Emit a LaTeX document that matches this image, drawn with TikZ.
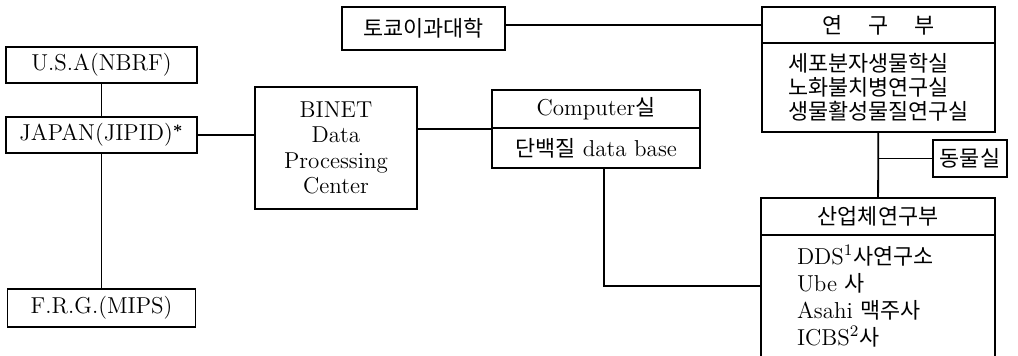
\documentclass[tikz,border=0pt]{standalone}
\usepackage{amsmath}
\usepackage{fontspec}
\newfontfamily\krfont[Scale=0.95]{Noto Sans CJK KR}
\newcommand{\krtext}[1]{{\krfont #1}}
\usetikzlibrary{positioning}

\begin{document}
\begin{tikzpicture}[x=0.5pt,y=-0.5pt,on grid,node distance=35pt,
  box/.style={draw,line width=0.9pt,inner sep=0pt,font=\fontsize{11.5}{12.75}\selectfont},
  link/.style={line width=0.9pt}]
\useasboundingbox (0,0) rectangle (1018,355);
\clip (0,0) rectangle (1018,355);
\node[box,minimum width=95.5pt,minimum height=18pt] (usa) at (101.5,65) {U.S.A(NBRF)};
\node[box,minimum width=95.5pt,minimum height=18pt] (japan) [below=of usa] {JAPAN(JIPID)$^{\boldsymbol{*}}$};
\node[box,minimum width=94pt,minimum height=19pt] (frg) [below=86.5pt of japan] {F.R.G.(MIPS)};
\node[box,align=center,minimum width=81pt,minimum height=61pt] (binet) at (336,148) {BINET\\Data\\Processing\\Center};
\node[box,minimum width=104pt,minimum height=19pt] (comphead) at (596,109) {Computer\krtext{실}};
\node[box,minimum width=104pt,minimum height=20pt] (compbody) [below=19.5pt of comphead] {\krtext{단백질} data base};
\node[box,minimum width=81.5pt,minimum height=21.5pt] (tokyo) at (423.5,28.5) {\krtext{토쿄이과대학}};
\node[box,minimum width=116.5pt,minimum height=18pt] (reshead) at (878.5,25) {\krtext{연\hspace{13pt}구\hspace{13pt}부}};
\node[box,align=left,minimum width=116.5pt,minimum height=44.5pt,font=\fontsize{11.5}{12}\selectfont\krfont] (resbody) [below=31.25pt of reshead] {세포분자생물학실\\노화불치병연구실\\생물활성물질연구실};
\node[box,minimum width=37pt,minimum height=18.5pt] (animal) at (970,158.5) {\krtext{동물실}};
\node[box,minimum width=117pt,minimum height=18.5pt] (indhead) at (878,216.5) {\krtext{산업체연구부}};
\node[box,inner xsep=18pt,inner ysep=5pt] (indbody) [below=49.25pt of indhead] {\parbox[c][70pt][t]{81pt}{\raggedright\baselineskip=13.5pt DDS\textsuperscript{1}\krtext{사연구소}\\Ube \krtext{사}\\Asahi \krtext{맥주사}\\ICBS\textsuperscript{2}\krtext{사}}};
\draw[link] (usa) -- (japan) (japan) -- (frg);
\draw[link] (japan.east) -- (japan.east -| binet.west);
\draw[link] (binet.east |- comphead.south) -- (comphead.south west);
\draw[link] ([xshift=4pt]compbody.south) |- ([yshift=-26pt]indbody.north west);
\draw[link] (tokyo.east |- reshead.west) -- (reshead.west);
\draw[link] (resbody) -- (indhead);
\draw[link] (animal.west) -- (animal.west -| resbody.south);
\end{tikzpicture}
\end{document}
